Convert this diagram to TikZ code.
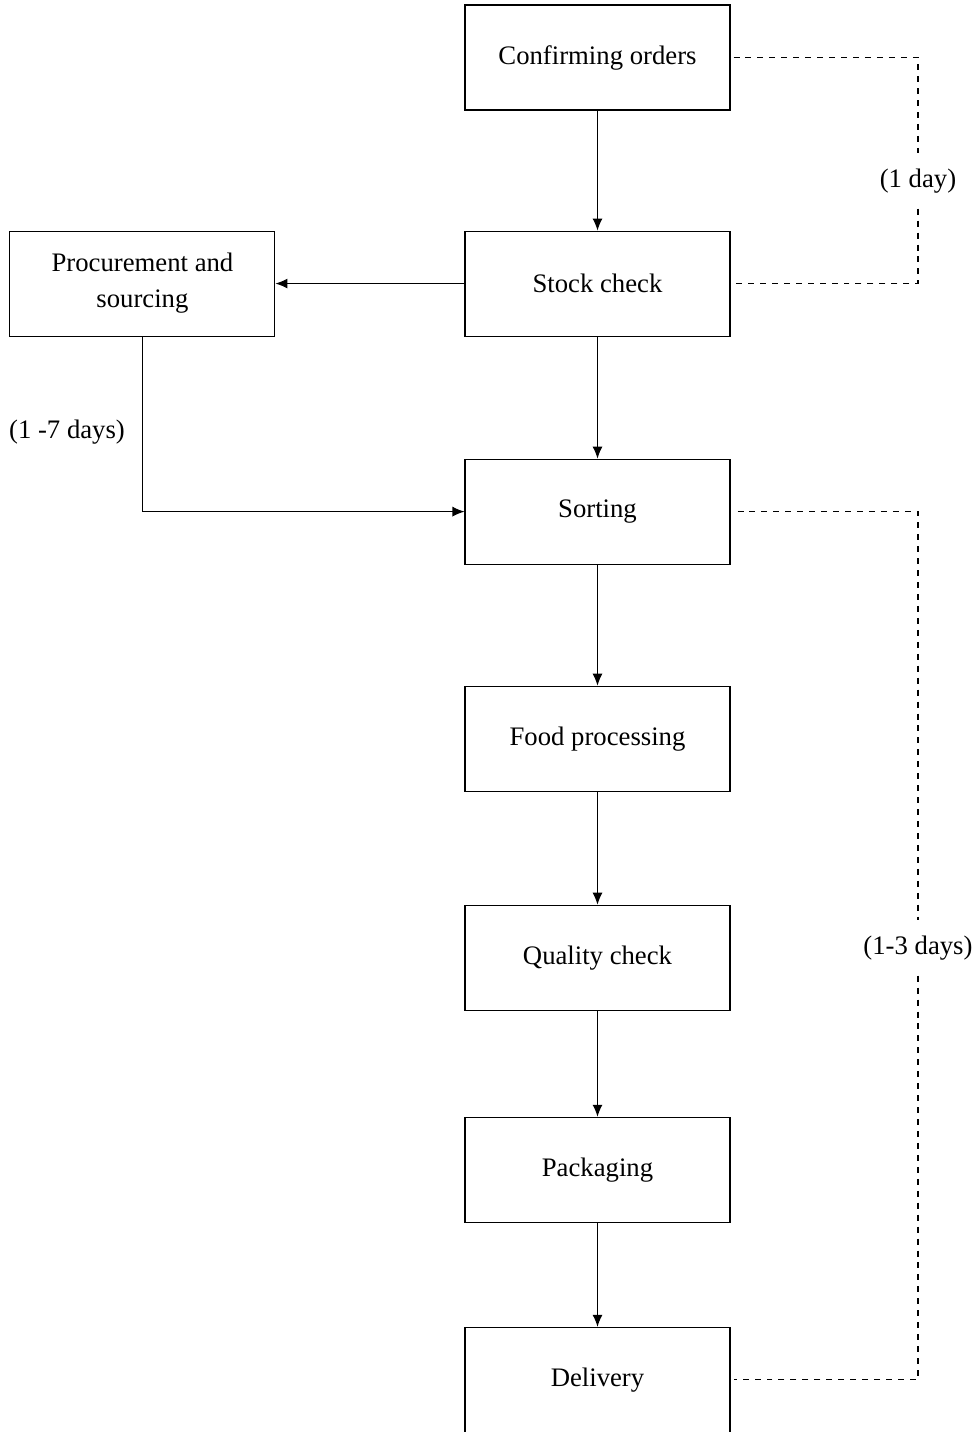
\documentclass[tikz,border=0pt]{standalone}
\usepackage{fontspec}
\setmainfont{Liberation Serif}
\usetikzlibrary{arrows.meta}
\usetikzlibrary{calc,shapes,positioning}

\begin{document}
\begin{tikzpicture}[font=\fontsize{15.2}{18.5}\selectfont,semithick,node distance=2.44cm and 3.78cm,
          >={Latex[length=2.4mm,width=2mm]},
          stepBox/.style={
            draw,
            rectangle,
            align=center,
            minimum width=5.3cm,
            minimum height=2.1cm,
          inner sep=.1cm},
          duration/.style={
            inner xsep=0cm,
            inner ysep=.3cm},
          waitLine/.style={
            dash pattern=on 3.4pt off 3.4pt}
          ]
          \useasboundingbox (0,0) rectangle (19.52,-28.64);
          \clip (0,0) rectangle (19.52,-28.64);

          \node[stepBox] (blockConfirm) at (11.95,-1.15) {Confirming orders};
          \node[stepBox, below=2.40cm of blockConfirm] (blockStock) {Stock check};
          \node[stepBox, below=of blockStock] (blockSort) {Sorting};
          \node[stepBox, below=2.42cm of blockSort] (blockFood) {Food processing};
          \node[stepBox, below=2.26cm of blockFood] (blockQuality) {Quality check};
          \node[stepBox, below=2.12cm of blockQuality] (blockPack) {Packaging};
          \node[stepBox, below=2.08cm of blockPack] (blockDeliver) {Delivery};
          \node[stepBox, left=of blockStock] (blockProcure) {Procurement and\\[.07cm]sourcing};

          \node[duration] (dayOne) at (18.36,-3.62) {(1 day)};
          \node[duration] (dayThree) at (18.36,-18.96) {(1-3 days)};
          \node (daySeven) at (1.34,-8.64) {(1 -7 days)};

          \coordinate (procCorner) at (blockProcure.south |- blockSort.west);

          \draw[->] (blockConfirm) -- (blockStock);
          \draw[->] (blockStock) -- (blockSort);
          \draw[->] (blockSort) -- (blockFood);
          \draw[->] (blockFood) -- (blockQuality);
          \draw[->] (blockQuality) -- (blockPack);
          \draw[->] (blockPack) -- (blockDeliver);
          \draw[->] (blockStock) -- (blockProcure);
          \draw[->] (blockProcure.south) -- (procCorner) -- (blockSort.west);

          % durations
          \draw[waitLine] ($(blockConfirm.east)+(.06,0)$) -| (dayOne.north);
          \draw[waitLine] (dayOne.south) |- ($(blockStock.east)+(.06,0)$);
          \draw[waitLine] ($(blockSort.east)+(.14,0)$) -| (dayThree.north);
          \draw[waitLine] (dayThree.south) |- ($(blockDeliver.east)+(.06,0)$);
        \end{tikzpicture}
\end{document}
